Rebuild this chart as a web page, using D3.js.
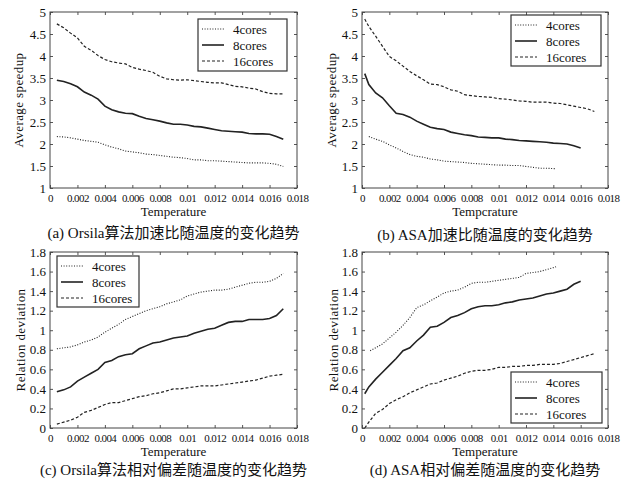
<!DOCTYPE html>
<html>
<head>
<meta charset="utf-8">
<script src="https://cdn.jsdelivr.net/npm/d3@7"></script>
<style>
  body { margin: 0; background: #fff; }
  svg text { font-family: "Liberation Serif", "Noto Sans CJK SC", serif; fill: #111; }
</style>
</head>
<body>
<div id="chart"></div>
<script>
// temperature grid, 0.0005 steps
const TEMPS = [0.0005, 0.001, 0.0015, 0.002, 0.0025, 0.003, 0.0035, 0.004, 0.0045, 0.005,
  0.0055, 0.006, 0.0065, 0.007, 0.0075, 0.008, 0.0085, 0.009, 0.0095, 0.01,
  0.0105, 0.011, 0.0115, 0.012, 0.0125, 0.013, 0.0135, 0.014, 0.0145, 0.015,
  0.0155, 0.016, 0.0165, 0.017];
const TEMPS_EARLY = [0.0002, 0.0005, 0.001, 0.0015, 0.002, 0.0025, 0.003, 0.0035, 0.004, 0.0045, 0.005,
  0.0055, 0.006, 0.0065, 0.007, 0.0075, 0.008, 0.0085, 0.009, 0.0095, 0.01,
  0.0105, 0.011, 0.0115, 0.012, 0.0125, 0.013, 0.0135, 0.014, 0.0145, 0.015,
  0.0155, 0.016, 0.0165, 0.017];
const TEMPS_B4 = [0.0005, 0.001, 0.0015, 0.002, 0.0025, 0.003, 0.0035, 0.004, 0.0045, 0.005,
  0.0055, 0.006, 0.0065, 0.007, 0.0075, 0.008, 0.0085, 0.009, 0.0095, 0.01,
  0.0105, 0.011, 0.0115, 0.012, 0.0125, 0.013, 0.0135, 0.014, 0.0142];
const TEMPS_D4 = [0.0006, 0.001, 0.0015, 0.002, 0.0025, 0.003, 0.0035, 0.004, 0.0045, 0.005,
  0.0055, 0.006, 0.0065, 0.007, 0.0075, 0.008, 0.0085, 0.009, 0.0095, 0.01,
  0.0105, 0.011, 0.0115, 0.012, 0.0125, 0.013, 0.0135, 0.014, 0.0142];

// (a) Orsila speedup
const a4 = [2.17, 2.16, 2.14, 2.11, 2.08, 2.06, 2.04, 1.98, 1.93, 1.89, 1.84, 1.82, 1.80, 1.77, 1.76, 1.74, 1.72,
  1.70, 1.69, 1.67, 1.64, 1.64, 1.62, 1.62, 1.61, 1.60, 1.59, 1.58, 1.57, 1.57, 1.57, 1.56, 1.54, 1.49];
const a8 = [3.45, 3.42, 3.37, 3.30, 3.18, 3.11, 3.02, 2.86, 2.78, 2.73, 2.70, 2.69, 2.63, 2.58, 2.55, 2.52, 2.48,
  2.45, 2.45, 2.43, 2.40, 2.39, 2.36, 2.33, 2.30, 2.29, 2.28, 2.27, 2.24, 2.23, 2.23, 2.22, 2.17, 2.11];
const a16 = [4.73, 4.64, 4.52, 4.41, 4.22, 4.13, 4.01, 3.92, 3.87, 3.84, 3.82, 3.74, 3.70, 3.67, 3.63, 3.54, 3.48,
  3.46, 3.45, 3.46, 3.44, 3.42, 3.40, 3.39, 3.39, 3.35, 3.31, 3.30, 3.27, 3.25, 3.19, 3.15, 3.14, 3.14];

// (b) ASA speedup
const b4 = [2.17, 2.11, 2.06, 1.98, 1.91, 1.83, 1.76, 1.72, 1.70, 1.66, 1.64, 1.61, 1.60, 1.59, 1.58, 1.56, 1.55,
  1.54, 1.53, 1.52, 1.52, 1.51, 1.51, 1.49, 1.47, 1.45, 1.45, 1.44, 1.44];
const b8 = [3.60, 3.35, 3.16, 3.05, 2.87, 2.70, 2.67, 2.61, 2.52, 2.45, 2.38, 2.35, 2.33, 2.27, 2.24, 2.21, 2.19,
  2.16, 2.15, 2.14, 2.14, 2.11, 2.10, 2.08, 2.07, 2.06, 2.05, 2.04, 2.02, 2.01, 2.00, 1.96, 1.91];
const b16 = [4.84, 4.67, 4.45, 4.22, 3.99, 3.89, 3.77, 3.65, 3.55, 3.46, 3.36, 3.35, 3.30, 3.23, 3.20, 3.12, 3.10,
  3.08, 3.07, 3.06, 3.03, 3.02, 3.00, 2.98, 2.97, 2.95, 2.95, 2.95, 2.93, 2.92, 2.89, 2.86, 2.83, 2.80, 2.74];

// (c) Orsila deviation
const c4 = [0.81, 0.82, 0.83, 0.85, 0.88, 0.90, 0.93, 0.98, 1.02, 1.06, 1.11, 1.14, 1.17, 1.20, 1.22, 1.24, 1.27,
  1.29, 1.31, 1.35, 1.37, 1.39, 1.40, 1.41, 1.41, 1.42, 1.44, 1.46, 1.48, 1.49, 1.49, 1.50, 1.53, 1.58];
const c8 = [0.37, 0.39, 0.42, 0.48, 0.52, 0.56, 0.60, 0.67, 0.69, 0.73, 0.75, 0.76, 0.81, 0.84, 0.87, 0.88, 0.90,
  0.92, 0.93, 0.94, 0.97, 0.99, 1.01, 1.02, 1.05, 1.08, 1.09, 1.09, 1.11, 1.11, 1.11, 1.12, 1.15, 1.22];
const c16 = [0.04, 0.06, 0.08, 0.11, 0.16, 0.18, 0.21, 0.24, 0.26, 0.26, 0.28, 0.30, 0.32, 0.33, 0.35, 0.36, 0.38,
  0.40, 0.40, 0.41, 0.42, 0.43, 0.43, 0.43, 0.44, 0.45, 0.46, 0.47, 0.48, 0.49, 0.51, 0.53, 0.54, 0.55];

// (d) ASA deviation
const d4 = [0.79, 0.82, 0.86, 0.92, 0.98, 1.05, 1.13, 1.23, 1.26, 1.30, 1.34, 1.38, 1.40, 1.41, 1.44, 1.48, 1.49,
  1.49, 1.50, 1.51, 1.52, 1.53, 1.54, 1.58, 1.59, 1.60, 1.62, 1.64, 1.65];
const d8 = [0.35, 0.42, 0.50, 0.57, 0.64, 0.71, 0.79, 0.82, 0.89, 0.95, 1.03, 1.04, 1.08, 1.13, 1.15, 1.18, 1.22,
  1.24, 1.25, 1.25, 1.26, 1.28, 1.29, 1.31, 1.32, 1.33, 1.35, 1.37, 1.38, 1.40, 1.42, 1.47, 1.50];
const d16 = [0.00, 0.06, 0.15, 0.19, 0.25, 0.29, 0.32, 0.36, 0.39, 0.42, 0.45, 0.46, 0.49, 0.51, 0.53, 0.56, 0.58,
  0.59, 0.59, 0.60, 0.62, 0.62, 0.63, 0.63, 0.64, 0.64, 0.65, 0.65, 0.65, 0.66, 0.68, 0.70, 0.72, 0.74, 0.76];

const SERIES_NAMES = ['4cores', '8cores', '16cores'];
const X_TICKS = [0, 0.002, 0.004, 0.006, 0.008, 0.01, 0.012, 0.014, 0.016, 0.018];
const Y_TICKS_SPEED = [1, 1.5, 2, 2.5, 3, 3.5, 4, 4.5, 5];
const Y_TICKS_DEV = [0, 0.2, 0.4, 0.6, 0.8, 1, 1.2, 1.4, 1.6, 1.8];
const CAPTIONS = ['(a) Orsila算法加速比随温度的变化趋势', '(b) ASA加速比随温度的变化趋势',
  '(c) Orsila算法相对偏差随温度的变化趋势', '(d) ASA相对偏差随温度的变化趋势'];

const STYLES = [
  { dash: '1,1.6', width: 1.1 },
  { dash: null, width: 1.6 },
  { dash: '3,2', width: 1.2 }
];
const LINE_COLOR = '#222';

const W = 635, H = 483;
const svg = d3.select('#chart').append('svg').attr('width', W).attr('height', H);

const panels = [
  { x0: 50, x1: 297, y0: 12, y1: 188, yDomain: [1, 5], yTicks: Y_TICKS_SPEED, yLabel: 'Average speedup', xLabel: 'Temperature',
    series: [[TEMPS, a4], [TEMPS, a8], [TEMPS, a16]], legend: { x: 198, y: 19, w: 89, h: 52 }, caption: CAPTIONS[0], capY: 238, ylx: 18 },
  { x0: 362, x1: 608, y0: 12, y1: 188, yDomain: [1, 5], yTicks: Y_TICKS_SPEED, yLabel: 'Average speedup', xLabel: 'Tempcrature',
    series: [[TEMPS_B4, b4], [TEMPS_EARLY, b8], [TEMPS_EARLY, b16]], legend: { x: 511, y: 15, w: 90, h: 51 }, caption: CAPTIONS[1], capY: 240, ylx: 331 },
  { x0: 50, x1: 297, y0: 252, y1: 428, yDomain: [0, 1.8], yTicks: Y_TICKS_DEV, yLabel: 'Relation deviation', xLabel: 'Temperature',
    series: [[TEMPS, c4], [TEMPS, c8], [TEMPS, c16]], legend: { x: 57, y: 256, w: 82, h: 51 }, caption: CAPTIONS[2], capY: 475, ylx: 20 },
  { x0: 362, x1: 608, y0: 252, y1: 428, yDomain: [0, 1.8], yTicks: Y_TICKS_DEV, yLabel: 'Relation deviation', xLabel: 'Temperature',
    series: [[TEMPS_D4, d4], [TEMPS_EARLY, d8], [TEMPS_EARLY, d16]], legend: { x: 511, y: 372, w: 91, h: 51 }, caption: CAPTIONS[3], capY: 475, ylx: 333 }
];

const fmtX = d => String(+d.toFixed(3));
const fmtY = d => String(+d.toFixed(1));

panels.forEach(p => {
  const w = p.x1 - p.x0, h = p.y1 - p.y0;
  const g = svg.append('g').attr('transform', `translate(${p.x0},${p.y0})`);

  const x = d3.scaleLinear().domain([0, 0.018]).range([0, w]);
  const y = d3.scaleLinear().domain(p.yDomain).range([h, 0]);

  // axes, ticks inward
  const xAxis = g.append('g').attr('transform', `translate(0,${h})`)
    .call(d3.axisBottom(x).tickValues(X_TICKS).tickFormat(fmtX).tickSizeInner(-3).tickSizeOuter(0).tickPadding(6));
  xAxis.selectAll('text').attr('font-size', 11).attr('letter-spacing', -0.6);
  const yAxis = g.append('g')
    .call(d3.axisLeft(y).tickValues(p.yTicks).tickFormat(fmtY).tickSizeInner(-3).tickSizeOuter(0).tickPadding(4));
  yAxis.selectAll('text').attr('font-size', 13);
  g.append('g').call(d3.axisTop(x).tickValues(X_TICKS).tickFormat('').tickSizeInner(-3).tickSizeOuter(0));
  g.append('g').attr('transform', `translate(${w},0)`)
    .call(d3.axisRight(y).tickValues(p.yTicks).tickFormat('').tickSizeInner(-3).tickSizeOuter(0));
  g.selectAll('.domain').remove();
  g.selectAll('.tick line').attr('stroke', '#555');

  g.append('rect').attr('width', w).attr('height', h)
    .attr('fill', 'none').attr('stroke', '#444').attr('stroke-width', 1);

  const line = d3.line().x(d => x(d[0])).y(d => y(d[1]));
  p.series.forEach((s, i) => {
    const pts = s[1].map((v, k) => [s[0][k], v]).filter(d => d[0] !== undefined);
    g.append('path').datum(pts)
      .attr('d', line)
      .attr('fill', 'none')
      .attr('stroke', LINE_COLOR)
      .attr('stroke-width', STYLES[i].width)
      .attr('stroke-dasharray', STYLES[i].dash);
  });

  // legend
  const L = p.legend;
  const lg = svg.append('g').attr('transform', `translate(${L.x},${L.y})`);
  lg.append('rect').attr('width', L.w).attr('height', L.h)
    .attr('fill', '#fff').attr('stroke', '#333').attr('stroke-width', 1.2);
  SERIES_NAMES.forEach((name, i) => {
    const ry = 10 + i * 16;
    lg.append('line').attr('x1', 4).attr('x2', 26).attr('y1', ry).attr('y2', ry)
      .attr('stroke', LINE_COLOR).attr('stroke-width', STYLES[i].width)
      .attr('stroke-dasharray', STYLES[i].dash);
    lg.append('text').attr('x', 35).attr('y', ry + 4.5).attr('font-size', 13).text(name);
  });

  // labels
  svg.append('text').attr('x', p.x0 + w / 2).attr('y', p.y1 + 28)
    .attr('text-anchor', 'middle').attr('font-size', 13).text(p.xLabel);
  svg.append('text').attr('transform', `translate(${p.ylx},${p.y0 + h / 2}) rotate(-90)`)
    .attr('text-anchor', 'middle').attr('dy', '0.35em').attr('font-size', 13).attr('letter-spacing', 0.4).text(p.yLabel);
  svg.append('text').attr('x', p.x0 + w / 2).attr('y', p.capY)
    .attr('text-anchor', 'middle').attr('font-size', 15).text(p.caption);
});
</script>
</body>
</html>
